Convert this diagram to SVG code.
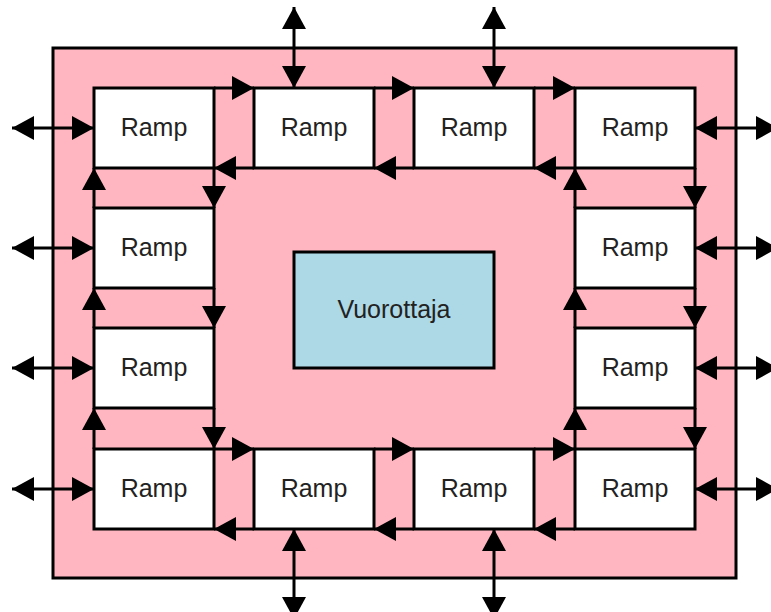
<svg xmlns="http://www.w3.org/2000/svg" width="771" height="612" viewBox="0 0 771 612">
<style>
.outer{fill:#FFB6C1;stroke:#000;stroke-width:3}
.ramp rect{fill:#fff;stroke:#000;stroke-width:3}
.sched rect{fill:#ADD8E6;stroke:#000;stroke-width:3}
text{font-family:"Liberation Sans",Arial,sans-serif;font-size:25px;fill:#222;text-anchor:middle}
.c line{stroke:#000;stroke-width:3}
.one{marker-end:url(#ah)}
.two{marker-start:url(#ah);marker-end:url(#ah)}
</style>
<defs>
<marker id="ah" markerUnits="userSpaceOnUse" markerWidth="23" markerHeight="24" refX="22" refY="12" orient="auto-start-reverse" viewBox="0 0 23 24">
<path d="M0,0 L22,12 L0,24 z" fill="#000"/>
</marker>
</defs>
<rect id="frame" class="outer" x="53" y="48" width="683" height="530"/>
<g id="ramp-1-1" class="ramp"><rect x="94" y="88" width="120" height="80"/><text x="154" y="136">Ramp</text></g>
<g id="ramp-1-2" class="ramp"><rect x="254" y="88" width="120" height="80"/><text x="314" y="136">Ramp</text></g>
<g id="ramp-1-3" class="ramp"><rect x="414" y="88" width="120" height="80"/><text x="474" y="136">Ramp</text></g>
<g id="ramp-1-4" class="ramp"><rect x="575" y="88" width="120" height="80"/><text x="635" y="136">Ramp</text></g>
<g id="ramp-2-1" class="ramp"><rect x="94" y="208" width="120" height="80"/><text x="154" y="256">Ramp</text></g>
<g id="ramp-2-4" class="ramp"><rect x="575" y="208" width="120" height="80"/><text x="635" y="256">Ramp</text></g>
<g id="ramp-3-1" class="ramp"><rect x="94" y="328" width="120" height="80"/><text x="154" y="376">Ramp</text></g>
<g id="ramp-3-4" class="ramp"><rect x="575" y="328" width="120" height="80"/><text x="635" y="376">Ramp</text></g>
<g id="ramp-4-1" class="ramp"><rect x="94" y="449" width="120" height="80"/><text x="154" y="497">Ramp</text></g>
<g id="ramp-4-2" class="ramp"><rect x="254" y="449" width="120" height="80"/><text x="314" y="497">Ramp</text></g>
<g id="ramp-4-3" class="ramp"><rect x="414" y="449" width="120" height="80"/><text x="474" y="497">Ramp</text></g>
<g id="ramp-4-4" class="ramp"><rect x="575" y="449" width="120" height="80"/><text x="635" y="497">Ramp</text></g>
<g id="vuorottaja" class="sched"><rect x="294" y="252" width="200" height="116"/><text x="394" y="318">Vuorottaja</text></g>
<g id="connectors" class="c">
<line class="one" x1="214" y1="88" x2="254" y2="88"/>
<line class="one" x1="374" y1="88" x2="414" y2="88"/>
<line class="one" x1="534" y1="88" x2="575" y2="88"/>
<line class="one" x1="254" y1="168" x2="214" y2="168"/>
<line class="one" x1="414" y1="168" x2="374" y2="168"/>
<line class="one" x1="575" y1="168" x2="534" y2="168"/>
<line class="one" x1="214" y1="449" x2="254" y2="449"/>
<line class="one" x1="374" y1="449" x2="414" y2="449"/>
<line class="one" x1="534" y1="449" x2="575" y2="449"/>
<line class="one" x1="254" y1="529" x2="214" y2="529"/>
<line class="one" x1="414" y1="529" x2="374" y2="529"/>
<line class="one" x1="575" y1="529" x2="534" y2="529"/>
<line class="one" x1="94" y1="208" x2="94" y2="168"/>
<line class="one" x1="94" y1="328" x2="94" y2="288"/>
<line class="one" x1="94" y1="449" x2="94" y2="408"/>
<line class="one" x1="214" y1="168" x2="214" y2="208"/>
<line class="one" x1="214" y1="288" x2="214" y2="328"/>
<line class="one" x1="214" y1="408" x2="214" y2="449"/>
<line class="one" x1="575" y1="208" x2="575" y2="168"/>
<line class="one" x1="575" y1="328" x2="575" y2="288"/>
<line class="one" x1="575" y1="449" x2="575" y2="408"/>
<line class="one" x1="695" y1="168" x2="695" y2="208"/>
<line class="one" x1="695" y1="288" x2="695" y2="328"/>
<line class="one" x1="695" y1="408" x2="695" y2="449"/>
<line class="two" x1="12" y1="128" x2="94" y2="128"/>
<line class="two" x1="12" y1="248" x2="94" y2="248"/>
<line class="two" x1="12" y1="368" x2="94" y2="368"/>
<line class="two" x1="12" y1="489" x2="94" y2="489"/>
<line class="two" x1="778" y1="128" x2="695" y2="128"/>
<line class="two" x1="778" y1="248" x2="695" y2="248"/>
<line class="two" x1="778" y1="368" x2="695" y2="368"/>
<line class="two" x1="778" y1="489" x2="695" y2="489"/>
<line class="two" x1="294" y1="7" x2="294" y2="88"/>
<line class="two" x1="494" y1="7" x2="494" y2="88"/>
<line class="two" x1="294" y1="619" x2="294" y2="529"/>
<line class="two" x1="494" y1="619" x2="494" y2="529"/>
</g>
</svg>
